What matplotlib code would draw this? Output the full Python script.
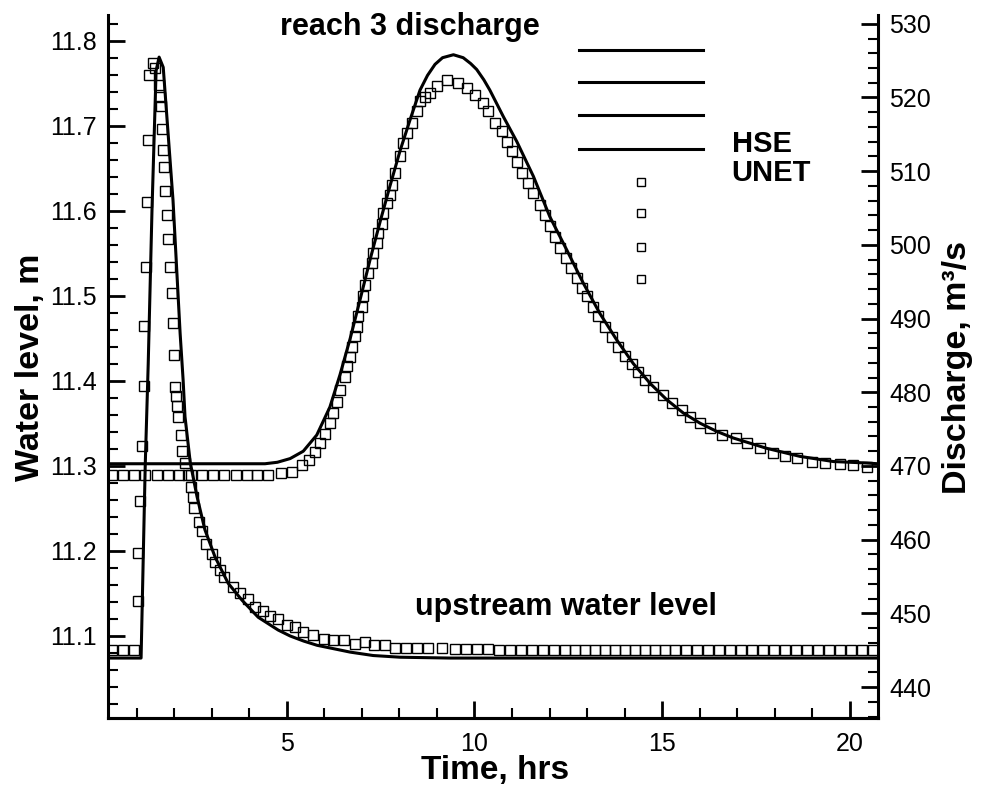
import matplotlib
matplotlib.use('Agg')
import matplotlib.pyplot as plt
from matplotlib.ticker import MultipleLocator, FormatStrFormatter
from matplotlib.lines import Line2D

plt.rcParams['font.family'] = ['Liberation Sans', 'DejaVu Sans']

# upstream water level (m), HSE solid line
wl_hse_t = [0.24, 1.12, 1.23, 1.31, 1.41, 1.52, 1.60, 1.71, 1.97, 2.16,
            2.24, 2.29, 2.43, 2.61, 2.82, 3.09, 3.44, 3.81, 4.24, 4.77,
            5.09, 5.45, 5.81, 6.25, 6.69, 7.30, 8.02, 9.35, 20.75]
wl_hse = [11.074, 11.074, 11.300, 11.420, 11.600, 11.765, 11.781, 11.769, 11.613, 11.456,
          11.401, 11.358, 11.304, 11.264, 11.225, 11.193, 11.162, 11.142, 11.122, 11.107,
          11.100, 11.094, 11.089, 11.085, 11.081, 11.077, 11.075, 11.074, 11.074]

# upstream water level (m), UNET symbols
wl_unet_t = [0.35, 0.64, 0.94, 1.05, 1.05, 1.09, 1.14, 1.19, 1.20, 1.25,
             1.27, 1.31, 1.33, 1.43, 1.49, 1.61, 1.63, 1.65, 1.67, 1.71,
             1.73, 1.76, 1.80, 1.85, 1.89, 1.94, 1.96, 2.00, 2.03, 2.04,
             2.07, 2.10, 2.19, 2.22, 2.29, 2.37, 2.44, 2.49, 2.54, 2.65,
             2.74, 2.85, 3.00, 3.09, 3.22, 3.34, 3.58, 3.76, 3.96, 4.16,
             4.38, 4.56, 4.78, 5.00, 5.22, 5.44, 5.69, 5.98, 6.24, 6.53,
             6.82, 7.09, 7.33, 7.62, 7.88, 8.18, 8.46, 8.77, 9.13, 9.48,
             9.78, 10.07, 10.36, 10.65, 10.95, 11.24, 11.53, 11.83, 12.12, 12.41,
             12.68, 12.95, 13.21, 13.48, 13.74, 14.01, 14.28, 14.54, 14.81, 15.08,
             15.34, 15.64, 15.93, 16.22, 16.51, 16.81, 17.10, 17.39, 17.69, 17.98,
             18.27, 18.56, 18.86, 19.15, 19.44, 19.74, 20.03, 20.32, 20.62]
wl_unet = [11.083, 11.083, 11.083, 11.141, 11.198, 11.259, 11.324, 11.394, 11.465, 11.534,
           11.611, 11.684, 11.760, 11.774, 11.768, 11.748, 11.734, 11.723, 11.697, 11.672,
           11.652, 11.623, 11.595, 11.567, 11.534, 11.503, 11.468, 11.431, 11.393, 11.382,
           11.370, 11.358, 11.336, 11.318, 11.304, 11.289, 11.275, 11.263, 11.251, 11.234,
           11.223, 11.208, 11.197, 11.187, 11.178, 11.169, 11.158, 11.150, 11.144, 11.134,
           11.129, 11.123, 11.120, 11.113, 11.110, 11.105, 11.101, 11.097, 11.095, 11.095,
           11.091, 11.093, 11.089, 11.089, 11.086, 11.086, 11.086, 11.086, 11.086, 11.085,
           11.085, 11.085, 11.085, 11.084, 11.084, 11.084, 11.084, 11.084, 11.084, 11.084,
           11.084, 11.084, 11.084, 11.084, 11.084, 11.084, 11.084, 11.084, 11.084, 11.084,
           11.084, 11.084, 11.084, 11.084, 11.084, 11.084, 11.084, 11.084, 11.084, 11.084,
           11.084, 11.084, 11.084, 11.084, 11.084, 11.084, 11.084, 11.084, 11.084]

# reach 3 discharge (m3/s), HSE solid line
q_hse_t = [0.24, 4.42, 4.75, 5.09, 5.44, 5.80, 6.15, 6.42, 6.69, 6.95,
           7.22, 7.49, 7.75, 8.02, 8.28, 8.55, 8.75, 8.95, 9.15, 9.44,
           9.70, 9.90, 10.06, 10.25, 10.41, 10.77, 11.13, 11.57, 12.01, 12.46,
           12.90, 13.34, 13.79, 14.23, 14.68, 15.12, 15.56, 16.01, 16.45, 16.89,
           17.78, 18.67, 19.56, 20.45, 20.75]
q_hse = [470.3, 470.3, 470.5, 471.0, 472.0, 474.2, 478.0, 482.4, 487.3, 492.5,
         498.0, 503.2, 508.0, 512.8, 516.9, 521.0, 523.0, 524.5, 525.4, 525.8,
         525.4, 524.6, 523.8, 522.4, 521.0, 517.4, 514.0, 509.3, 503.8, 499.3,
         494.8, 490.7, 487.1, 483.9, 481.2, 479.0, 477.2, 475.8, 474.7, 473.8,
         472.4, 471.3, 470.6, 470.4, 470.3]

# reach 3 discharge (m3/s), UNET symbols
q_unet_t = [0.35, 0.64, 0.94, 1.23, 1.55, 1.84, 2.13, 2.45, 2.74, 3.04,
            3.33, 3.65, 3.94, 4.21, 4.51, 4.84, 5.13, 5.40, 5.60, 5.75,
            5.89, 6.02, 6.15, 6.24, 6.35, 6.42, 6.55, 6.60, 6.69, 6.73,
            6.82, 6.86, 6.91, 7.00, 7.04, 7.09, 7.17, 7.26, 7.31, 7.40,
            7.44, 7.53, 7.57, 7.66, 7.75, 7.80, 7.88, 8.02, 8.11, 8.20,
            8.33, 8.46, 8.55, 8.68, 8.82, 9.00, 9.26, 9.57, 9.79, 10.02,
            10.24, 10.37, 10.55, 10.73, 10.86, 10.99, 11.13, 11.27, 11.43, 11.57,
            11.75, 11.88, 12.01, 12.15, 12.28, 12.44, 12.56, 12.72, 12.86, 12.99,
            13.17, 13.30, 13.48, 13.66, 13.83, 14.01, 14.19, 14.36, 14.54, 14.76,
            15.01, 15.25, 15.52, 15.74, 16.01, 16.27, 16.59, 16.98, 17.25, 17.61,
            17.96, 18.27, 18.58, 18.98, 19.34, 19.74, 20.09, 20.45]
q_unet = [468.8, 468.8, 468.8, 468.8, 468.8, 468.8, 468.8, 468.8, 468.8, 468.8,
          468.8, 468.8, 468.8, 468.8, 468.8, 469.0, 469.2, 470.1, 470.8, 471.9,
          473.1, 474.4, 475.8, 477.2, 478.7, 480.3, 482.1, 483.5, 484.8, 486.2,
          487.6, 488.9, 490.3, 491.6, 493.0, 494.6, 496.2, 497.5, 498.9, 500.2,
          501.6, 502.9, 504.3, 505.7, 506.8, 508.1, 509.7, 512.0, 513.8, 515.2,
          516.5, 518.1, 519.5, 520.1, 520.6, 521.5, 522.4, 522.0, 521.3, 520.4,
          519.3, 518.2, 516.5, 515.4, 514.0, 512.7, 511.3, 509.7, 508.4, 507.0,
          505.4, 504.1, 502.5, 501.1, 499.6, 498.2, 496.8, 495.5, 494.1, 493.0,
          491.6, 490.4, 488.9, 487.5, 486.2, 484.9, 483.9, 482.8, 481.7, 480.7,
          479.6, 478.5, 477.6, 476.7, 475.8, 475.1, 474.2, 473.8, 473.1, 472.4,
          471.7, 471.4, 471.1, 470.6, 470.4, 470.3, 470.1, 469.9]

sym = dict(ls='none', marker='s', ms=6.5, mfc='none', mec='black', mew=1.0)

fig = plt.figure(figsize=(9.84, 7.91), dpi=100)
ax = fig.add_axes([0.1098, 0.0923, 0.7825, 0.8888])
ax2 = ax.twinx()

ax.plot(wl_hse_t, wl_hse, color='black', lw=2.2)
ax.plot(wl_unet_t, wl_unet, **sym)
ax2.plot(q_hse_t, q_hse, color='black', lw=2.2)
ax2.plot(q_unet_t, q_unet, **sym)

ax.set_xlim(0.24, 20.75)
ax.set_ylim(11.0035, 11.8306)
ax2.set_ylim(435.8, 531.2)

# axes look
for a in (ax, ax2):
    a.spines['top'].set_visible(False)
    for s in a.spines.values():
        s.set_linewidth(2.2)
ax.spines['right'].set_visible(False)
ax2.spines['left'].set_visible(False)

ax.xaxis.set_major_locator(MultipleLocator(5))
ax.xaxis.set_minor_locator(MultipleLocator(1))
ax.xaxis.set_major_formatter(FormatStrFormatter('%d'))
ax.yaxis.set_major_locator(MultipleLocator(0.1))
ax.yaxis.set_minor_locator(MultipleLocator(0.02))
ax.yaxis.set_major_formatter(FormatStrFormatter('%.1f'))
ax2.yaxis.set_major_locator(MultipleLocator(10))
ax2.yaxis.set_minor_locator(MultipleLocator(2))
ax2.yaxis.set_major_formatter(FormatStrFormatter('%d'))

ax.tick_params(which='major', direction='in', length=12.5, width=2.0, labelsize=18, pad=8)
ax.tick_params(which='minor', direction='in', length=7, width=1.5)
ax.tick_params(axis='x', which='major', pad=10)
ax.tick_params(top=False, right=False, which='both')
ax2.tick_params(which='major', direction='in', length=12.5, width=2.0, labelsize=18, pad=8)
ax2.tick_params(which='minor', direction='in', length=7, width=1.5)

ax.set_xlabel('Time, hrs', fontsize=24, fontweight='bold')
ax.xaxis.set_label_coords(0.503, -0.053)
ax.set_ylabel('Water level, m', fontsize=24.5, fontweight='bold')
ax.yaxis.set_label_coords(-0.0805, 0.4986)
ax2.set_ylabel('Discharge, m³/s', fontsize=24.5, fontweight='bold')
ax2.yaxis.set_label_coords(1.083, 0.498)

ax.text(0.392, 0.9716, 'reach 3 discharge', transform=ax.transAxes,
        fontsize=22, fontweight='bold', ha='center', va='baseline')
ax.text(0.595, 0.1465, 'upstream water level', transform=ax.transAxes,
        fontsize=22, fontweight='bold', ha='center', va='baseline')

# tecplot style legend
for y in [0.950, 0.904, 0.858, 0.810]:
    ax.add_line(Line2D([0.612, 0.773], [y, y], transform=ax.transAxes,
                       color='black', lw=2.2, clip_on=False))
for y in [0.763, 0.718, 0.670, 0.624]:
    ax.add_line(Line2D([0.692], [y], transform=ax.transAxes, ls='none',
                       marker='s', ms=5.8, mfc='none', mec='black', mew=1.0))
ax.text(0.810, 0.805, 'HSE', transform=ax.transAxes, fontsize=21,
        fontweight='bold', va='baseline')
ax.text(0.810, 0.764, 'UNET', transform=ax.transAxes, fontsize=21,
        fontweight='bold', va='baseline')

fig.savefig('out.png', dpi=100)
